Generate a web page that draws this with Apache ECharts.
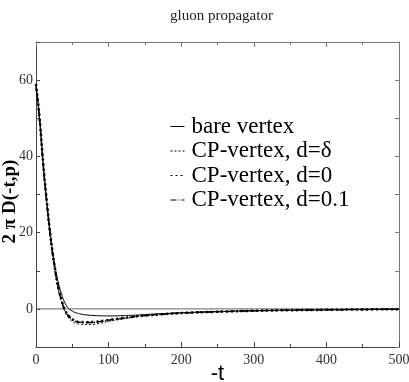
<!DOCTYPE html>
<html><head><meta charset="utf-8">
<script src="https://cdn.jsdelivr.net/npm/echarts@6/dist/echarts.min.js"></script>
<style>html,body{margin:0;padding:0;background:#fff}#c{width:409px;height:382px}</style>
</head><body><div id="c"></div>
<script>
var title = 'gluon propagator';
var xName = '-t';
var yName = '2 \u03c0 D(-t,p)';
var seriesNames = ['bare vertex', 'CP-vertex, d=\u03b4', 'CP-vertex, d=0', 'CP-vertex, d=0.1'];
var t =       [0, 5, 10, 15, 20, 25, 30, 35, 40, 45, 50, 55, 60, 70, 80, 90, 100, 110, 120, 130, 140, 150, 175, 200, 250, 300, 350, 400, 450, 500];
var bare =    [59, 50, 38, 28, 19.5, 12.5, 7.5, 4, 1.5, 0.1, -0.6, -1.0, -1.3, -1.6, -1.75, -1.82, -1.85, -1.83, -1.78, -1.7, -1.62, -1.5, -1.25, -1.0, -0.72, -0.5, -0.35, -0.25, -0.15, -0.08];
var cpDelta = [58, 49, 37, 27, 18, 11, 5.5, 1.8, -0.8, -2.4, -3.3, -3.8, -4.0, -4.1, -4.0, -3.7, -3.3, -2.95, -2.6, -2.3, -2.0, -1.8, -1.4, -1.1, -0.75, -0.5, -0.35, -0.25, -0.15, -0.08];
var cp0 =     [59, 50, 38, 28, 19, 12, 6.5, 2.5, -0.3, -1.8, -2.7, -3.2, -3.4, -3.5, -3.4, -3.2, -2.9, -2.65, -2.4, -2.15, -1.9, -1.75, -1.4, -1.1, -0.75, -0.5, -0.35, -0.25, -0.15, -0.08];
var cp01 =    [58.5, 49.5, 37.5, 27.5, 18.8, 11.8, 6.3, 2.3, -0.4, -1.9, -2.8, -3.3, -3.5, -3.6, -3.5, -3.25, -2.95, -2.7, -2.45, -2.2, -1.95, -1.75, -1.4, -1.1, -0.75, -0.5, -0.35, -0.25, -0.15, -0.08];

function pairs(ys){ return t.map(function(x,i){ return [x, ys[i]]; }); }
var serif = 'Liberation Serif';
var axisCol = '#444';
function mkLine(name, ys, type, width){
  return {name:name, type:'line', data:pairs(ys), symbol:'none', smooth:true,
    itemStyle:{color:'#000'},
    lineStyle:{color:'#000', width:width, type:type}, z:3};
}
var chart = echarts.init(document.getElementById('c'), null, {renderer:'canvas'});
chart.setOption({
  animation:false,
  backgroundColor:'#fff',
  title:{text:title, left:165, top:4, textStyle:{fontFamily:serif, fontWeight:'normal', fontSize:15, color:'#222'}},
  grid:{left:36, right:10, top:42, bottom:35, containLabel:false, outerBoundsMode:'none'},
  legend:{orient:'vertical', left:165, top:110, itemWidth:14, itemHeight:10, itemGap:1.5,
    itemStyle:{opacity:0}, lineStyle:{width:1},
    textStyle:{fontFamily:serif, fontSize:23, lineHeight:23, color:'#000', padding:[0,0,0,2]},
    data:seriesNames},
  xAxis:[
    {type:'value', min:0, max:500, interval:100, position:'bottom',
     name:xName, nameLocation:'middle', nameGap:16, nameMoveOverlap:false,
     nameTextStyle:{fontFamily:'Liberation Sans', fontSize:22, color:'#000'},
     axisLine:{show:true, onZero:false, lineStyle:{color:axisCol, width:1}},
     axisTick:{show:true, inside:true, length:5, lineStyle:{color:axisCol}},
     minorTick:{show:true, splitNumber:2, length:3, lineStyle:{color:axisCol}},
     axisLabel:{fontFamily:serif, fontSize:14, color:'#333', margin:6},
     splitLine:{show:false}},
    {type:'value', min:0, max:500, interval:100, position:'top',
     axisLine:{show:true, onZero:false, lineStyle:{color:'#777', width:1}},
     axisTick:{show:true, inside:true, length:5, lineStyle:{color:'#777'}},
     minorTick:{show:true, splitNumber:2, length:3, lineStyle:{color:'#777'}},
     axisLabel:{show:false}, splitLine:{show:false}}
  ],
  yAxis:[
    {type:'value', min:-10, max:70, interval:10, position:'left',
     name:yName, nameLocation:'middle', nameGap:16, nameRotate:90, nameMoveOverlap:false,
     nameTextStyle:{fontFamily:serif, fontWeight:'bold', fontSize:19, color:'#000', padding:[0,14,0,0]},
     axisLine:{show:true, onZero:false, lineStyle:{color:axisCol, width:1}},
     axisTick:{show:true, inside:true, length:4, lineStyle:{color:axisCol}},
     axisLabel:{fontFamily:serif, fontSize:14, color:'#333', margin:3,
       formatter:function(v){ return (v % 20 === 0) ? String(v) : ''; }},
     splitLine:{show:false}},
    {type:'value', min:-10, max:70, interval:10, position:'right',
     axisLine:{show:true, onZero:false, lineStyle:{color:'#777', width:1}},
     axisTick:{show:true, inside:true, length:4, lineStyle:{color:'#777'}},
     axisLabel:{show:false}, splitLine:{show:false}}
  ],
  series:[
    mkLine(seriesNames[0], bare, 'solid', 1),
    mkLine(seriesNames[1], cpDelta, [2,2], 1),
    mkLine(seriesNames[2], cp0, [2,3], 2.5),
    mkLine(seriesNames[3], cp01, [6,2,1,2], 1.5),
    {name:'zero', type:'line', data:[[0,0],[500,0]], symbol:'none', silent:true,
     lineStyle:{color:'#666', width:1}, z:2}
  ]
});
</script></body></html>
